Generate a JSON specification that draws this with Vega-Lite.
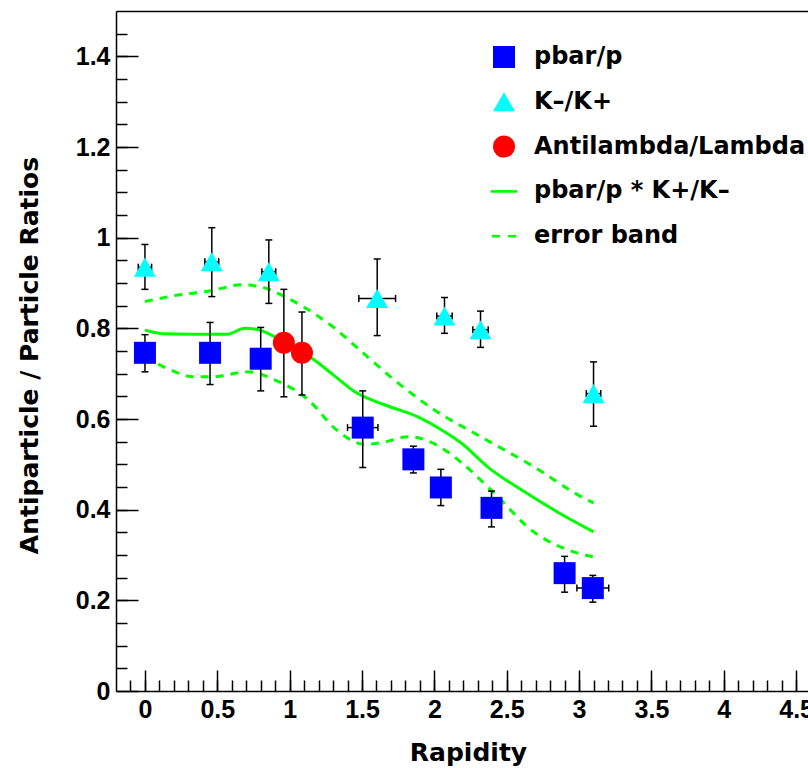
{
  "$schema": "https://vega.github.io/schema/vega-lite/v6.json",
  "width": 692,
  "height": 680,
  "autosize": {"type": "none"},
  "padding": {"left": 116, "top": 11, "right": 0, "bottom": 77},
  "background": "white",
  "config": {
    "view": {"stroke": null},
    "axis": {
      "grid": false,
      "labelFont": "Liberation Sans",
      "labelFontWeight": "bold",
      "labelFontSize": 25,
      "labelColor": "black",
      "titleFont": "DejaVu Sans",
      "titleFontWeight": "bold",
      "titleFontSize": 25,
      "titleColor": "black",
      "domainColor": "black",
      "domainWidth": 1.5,
      "tickColor": "black",
      "tickWidth": 1.5
    }
  },
  "datasets": {
    "points": [
      {"series": "pbar/p", "x": 0.0, "y": 0.746, "ylo": 0.704, "yhi": 0.786, "xlo": null, "xhi": null},
      {"series": "pbar/p", "x": 0.45, "y": 0.746, "ylo": 0.676, "yhi": 0.813, "xlo": null, "xhi": null},
      {"series": "pbar/p", "x": 0.8, "y": 0.733, "ylo": 0.662, "yhi": 0.802, "xlo": null, "xhi": null},
      {"series": "pbar/p", "x": 1.505, "y": 0.581, "ylo": 0.493, "yhi": 0.662, "xlo": 1.4, "xhi": 1.61},
      {"series": "pbar/p", "x": 1.855, "y": 0.511, "ylo": 0.481, "yhi": 0.54, "xlo": null, "xhi": null},
      {"series": "pbar/p", "x": 2.045, "y": 0.449, "ylo": 0.409, "yhi": 0.489, "xlo": null, "xhi": null},
      {"series": "pbar/p", "x": 2.395, "y": 0.404, "ylo": 0.362, "yhi": 0.441, "xlo": null, "xhi": null},
      {"series": "pbar/p", "x": 2.9, "y": 0.26, "ylo": 0.218, "yhi": 0.297, "xlo": null, "xhi": null},
      {"series": "pbar/p", "x": 3.095, "y": 0.227, "ylo": 0.196, "yhi": 0.255, "xlo": 2.985, "xhi": 3.205},
      {"series": "K–/K+", "x": 0.0, "y": 0.935, "ylo": 0.886, "yhi": 0.985, "xlo": -0.046, "xhi": 0.046},
      {"series": "K–/K+", "x": 0.462, "y": 0.947, "ylo": 0.87, "yhi": 1.022, "xlo": 0.414, "xhi": 0.51},
      {"series": "K–/K+", "x": 0.856, "y": 0.925, "ylo": 0.855, "yhi": 0.995, "xlo": 0.808, "xhi": 0.904},
      {"series": "K–/K+", "x": 1.605, "y": 0.866, "ylo": 0.784, "yhi": 0.953, "xlo": 1.478, "xhi": 1.732},
      {"series": "K–/K+", "x": 2.07, "y": 0.827, "ylo": 0.789, "yhi": 0.868, "xlo": 2.017, "xhi": 2.123},
      {"series": "K–/K+", "x": 2.319, "y": 0.797, "ylo": 0.758, "yhi": 0.838, "xlo": 2.266, "xhi": 2.372},
      {"series": "K–/K+", "x": 3.1, "y": 0.656, "ylo": 0.584, "yhi": 0.726, "xlo": 3.05, "xhi": 3.15},
      {"series": "Antilambda/Lambda", "x": 0.96, "y": 0.768, "ylo": 0.649, "yhi": 0.886, "xlo": null, "xhi": null},
      {"series": "Antilambda/Lambda", "x": 1.085, "y": 0.746, "ylo": 0.653, "yhi": 0.836, "xlo": null, "xhi": null}
    ],
    "central": [
      {"x": 0.0, "y": 0.796}, {"x": 0.13, "y": 0.788}, {"x": 0.3, "y": 0.787}, {"x": 0.57, "y": 0.787},
      {"x": 0.69, "y": 0.8}, {"x": 0.77, "y": 0.798}, {"x": 0.9, "y": 0.781}, {"x": 1.05, "y": 0.755},
      {"x": 1.17, "y": 0.73}, {"x": 1.31, "y": 0.695}, {"x": 1.45, "y": 0.66}, {"x": 1.65, "y": 0.632},
      {"x": 1.89, "y": 0.604}, {"x": 2.07, "y": 0.572}, {"x": 2.19, "y": 0.546}, {"x": 2.37, "y": 0.494},
      {"x": 2.62, "y": 0.44}, {"x": 2.85, "y": 0.395}, {"x": 3.1, "y": 0.351}
    ],
    "upper": [
      {"x": 0.0, "y": 0.859}, {"x": 0.2, "y": 0.872}, {"x": 0.46, "y": 0.883}, {"x": 0.66, "y": 0.896},
      {"x": 0.78, "y": 0.893}, {"x": 0.99, "y": 0.866}, {"x": 1.2, "y": 0.826}, {"x": 1.32, "y": 0.798},
      {"x": 1.45, "y": 0.762}, {"x": 1.72, "y": 0.687}, {"x": 2.0, "y": 0.62}, {"x": 2.32, "y": 0.561},
      {"x": 2.67, "y": 0.498}, {"x": 3.06, "y": 0.421}, {"x": 3.1, "y": 0.415}
    ],
    "lower": [
      {"x": 0.0, "y": 0.737}, {"x": 0.15, "y": 0.712}, {"x": 0.34, "y": 0.693}, {"x": 0.46, "y": 0.693},
      {"x": 0.71, "y": 0.704}, {"x": 0.9, "y": 0.686}, {"x": 1.13, "y": 0.642}, {"x": 1.32, "y": 0.577},
      {"x": 1.52, "y": 0.544}, {"x": 1.65, "y": 0.549}, {"x": 1.82, "y": 0.561}, {"x": 2.09, "y": 0.528},
      {"x": 2.19, "y": 0.503}, {"x": 2.44, "y": 0.428}, {"x": 2.67, "y": 0.355}, {"x": 2.9, "y": 0.314},
      {"x": 3.1, "y": 0.296}
    ]
  },
  "resolve": {"axis": {"x": "independent", "y": "independent"}},
  "layer": [
    {
      "data": {"name": "lower"},
      "mark": {"type": "line", "color": "#00ff00", "strokeWidth": 3, "strokeDash": [8, 7], "interpolate": "monotone"},
      "encoding": {
        "x": {"field": "x", "type": "quantitative", "scale": {"domain": [-0.2, 4.582], "nice": false, "zero": false},
          "axis": {"orient": "bottom", "values": [0, 0.5, 1, 1.5, 2, 2.5, 3, 3.5, 4, 4.5], "format": "~g", "ticks": false, "tickSize": 0, "labelPadding": 6, "labelFlush": false, "labelOverlap": false, "domain": true,
            "title": "Rapidity", "titleX": 352, "titleY": 69, "titleAlign": "center", "titleBaseline": "alphabetic", "titleAnchor": null}},
        "y": {"field": "y", "type": "quantitative", "scale": {"domain": [0, 1.5], "nice": false, "zero": false},
          "axis": {"orient": "left", "values": [0, 0.2, 0.4, 0.6, 0.8, 1, 1.2, 1.4], "format": "~g", "ticks": false, "tickSize": 0, "labelPadding": 6, "labelFlush": false, "labelOverlap": false, "domain": true,
            "title": "Antiparticle / Particle Ratios", "titleX": -79, "titleY": 344, "titleAngle": -90, "titleAlign": "center", "titleBaseline": "alphabetic", "titleAnchor": null}}
      }
    },
    {
      "data": {"name": "upper"},
      "mark": {"type": "line", "color": "#00ff00", "strokeWidth": 3, "strokeDash": [8, 7], "interpolate": "monotone"},
      "encoding": {
        "x": {"field": "x", "type": "quantitative", "scale": {"domain": [-0.2, 4.582], "nice": false, "zero": false},
          "axis": {"orient": "bottom", "values": [0, 0.5, 1, 1.5, 2, 2.5, 3, 3.5, 4, 4.5], "labels": false, "domain": false, "ticks": true, "tickSize": -21, "title": null}},
        "y": {"field": "y", "type": "quantitative", "scale": {"domain": [0, 1.5], "nice": false, "zero": false},
          "axis": {"orient": "left", "values": [0, 0.2, 0.4, 0.6, 0.8, 1, 1.2, 1.4], "labels": false, "domain": false, "ticks": true, "tickSize": -22, "title": null}}
      }
    },
    {
      "data": {"name": "central"},
      "mark": {"type": "line", "color": "#00ff00", "strokeWidth": 3, "interpolate": "monotone"},
      "encoding": {
        "x": {"field": "x", "type": "quantitative", "scale": {"domain": [-0.2, 4.582], "nice": false, "zero": false},
          "axis": {"orient": "bottom", "values": [-0.1, 0, 0.1, 0.2, 0.3, 0.4, 0.5, 0.6, 0.7, 0.8, 0.9, 1, 1.1, 1.2, 1.3, 1.4, 1.5, 1.6, 1.7, 1.8, 1.9, 2, 2.1, 2.2, 2.3, 2.4, 2.5, 2.6, 2.7, 2.8, 2.9, 3, 3.1, 3.2, 3.3, 3.4, 3.5, 3.6, 3.7, 3.8, 3.9, 4, 4.1, 4.2, 4.3, 4.4, 4.5], "labels": false, "domain": false, "ticks": true, "tickSize": -11, "title": null}},
        "y": {"field": "y", "type": "quantitative", "scale": {"domain": [0, 1.5], "nice": false, "zero": false},
          "axis": {"orient": "left", "values": [0.05, 0.1, 0.15, 0.2, 0.25, 0.3, 0.35, 0.4, 0.45, 0.5, 0.55, 0.6, 0.65, 0.7, 0.75, 0.8, 0.85, 0.9, 0.95, 1, 1.05, 1.1, 1.15, 1.2, 1.25, 1.3, 1.35, 1.4, 1.45], "labels": false, "domain": false, "ticks": true, "tickSize": -11, "title": null}}
      }
    },
    {
      "data": {"name": "points"},
      "mark": {"type": "rule", "color": "black", "strokeWidth": 1.5},
      "encoding": {
        "x": {"field": "x", "type": "quantitative", "scale": {"domain": [-0.2, 4.582], "nice": false, "zero": false},
          "axis": {"orient": "top", "values": [], "labels": false, "ticks": false, "domain": true, "title": null}},
        "y": {"field": "ylo", "type": "quantitative", "scale": {"domain": [0, 1.5], "nice": false, "zero": false}, "axis": null},
        "y2": {"field": "yhi"}
      }
    },
    {
      "data": {"name": "points"},
      "mark": {"type": "tick", "orient": "horizontal", "color": "black", "size": 7, "thickness": 1.5, "opacity": 1},
      "encoding": {
        "x": {"field": "x", "type": "quantitative", "scale": {"domain": [-0.2, 4.582], "nice": false, "zero": false}, "axis": null},
        "y": {"field": "ylo", "type": "quantitative", "scale": {"domain": [0, 1.5], "nice": false, "zero": false}, "axis": null}
      }
    },
    {
      "data": {"name": "points"},
      "mark": {"type": "tick", "orient": "horizontal", "color": "black", "size": 7, "thickness": 1.5, "opacity": 1},
      "encoding": {
        "x": {"field": "x", "type": "quantitative", "scale": {"domain": [-0.2, 4.582], "nice": false, "zero": false}, "axis": null},
        "y": {"field": "yhi", "type": "quantitative", "scale": {"domain": [0, 1.5], "nice": false, "zero": false}, "axis": null}
      }
    },
    {
      "data": {"name": "points"},
      "transform": [{"filter": "datum.xlo != null"}],
      "mark": {"type": "rule", "color": "black", "strokeWidth": 1.5},
      "encoding": {
        "x": {"field": "xlo", "type": "quantitative", "scale": {"domain": [-0.2, 4.582], "nice": false, "zero": false}, "axis": null},
        "x2": {"field": "xhi"},
        "y": {"field": "y", "type": "quantitative", "scale": {"domain": [0, 1.5], "nice": false, "zero": false}, "axis": null}
      }
    },
    {
      "data": {"name": "points"},
      "transform": [{"filter": "datum.xlo != null"}],
      "mark": {"type": "tick", "orient": "vertical", "color": "black", "size": 7, "thickness": 1.5, "opacity": 1},
      "encoding": {
        "x": {"field": "xlo", "type": "quantitative", "scale": {"domain": [-0.2, 4.582], "nice": false, "zero": false}, "axis": null},
        "y": {"field": "y", "type": "quantitative", "scale": {"domain": [0, 1.5], "nice": false, "zero": false}, "axis": null}
      }
    },
    {
      "data": {"name": "points"},
      "transform": [{"filter": "datum.xlo != null"}],
      "mark": {"type": "tick", "orient": "vertical", "color": "black", "size": 7, "thickness": 1.5, "opacity": 1},
      "encoding": {
        "x": {"field": "xhi", "type": "quantitative", "scale": {"domain": [-0.2, 4.582], "nice": false, "zero": false}, "axis": null},
        "y": {"field": "y", "type": "quantitative", "scale": {"domain": [0, 1.5], "nice": false, "zero": false}, "axis": null}
      }
    },
    {
      "data": {"name": "points"},
      "mark": {"type": "point", "filled": true, "opacity": 1, "size": 484},
      "encoding": {
        "x": {"field": "x", "type": "quantitative", "scale": {"domain": [-0.2, 4.582], "nice": false, "zero": false}, "axis": null},
        "y": {"field": "y", "type": "quantitative", "scale": {"domain": [0, 1.5], "nice": false, "zero": false}, "axis": null},
        "color": {"field": "series", "type": "nominal",
          "scale": {"domain": ["pbar/p", "K–/K+", "Antilambda/Lambda", "pbar/p * K+/K–", "error band"], "range": ["#0000ff", "#00ffff", "#ff0000", "#00ff00", "#00ff00"]},
          "legend": {"title": null, "orient": "none", "legendX": 376, "legendY": 34, "padding": 0, "symbolSize": 484, "symbolOffset": 0,
            "labelFont": "DejaVu Sans", "labelFontSize": 24, "labelFontWeight": "bold", "labelColor": "black", "labelOffset": 18, "labelLimit": 500, "rowPadding": 20.8}},
        "shape": {"field": "series", "type": "nominal",
          "scale": {"domain": ["pbar/p", "K–/K+", "Antilambda/Lambda", "pbar/p * K+/K–", "error band"], "range": ["square", "triangle-up", "circle", "M-1.2,-0.12H1.2V0.12H-1.2Z", "M-1.1,-0.12H-0.37V0.12H-1.1ZM0.37,-0.12H1.1V0.12H0.37Z"]},
          "legend": {"title": null, "orient": "none", "legendX": 376, "legendY": 34, "padding": 0, "symbolSize": 484, "symbolOffset": 0,
            "labelFont": "DejaVu Sans", "labelFontSize": 24, "labelFontWeight": "bold", "labelColor": "black", "labelOffset": 18, "labelLimit": 500, "rowPadding": 20.8}}
      }
    }
  ]
}
